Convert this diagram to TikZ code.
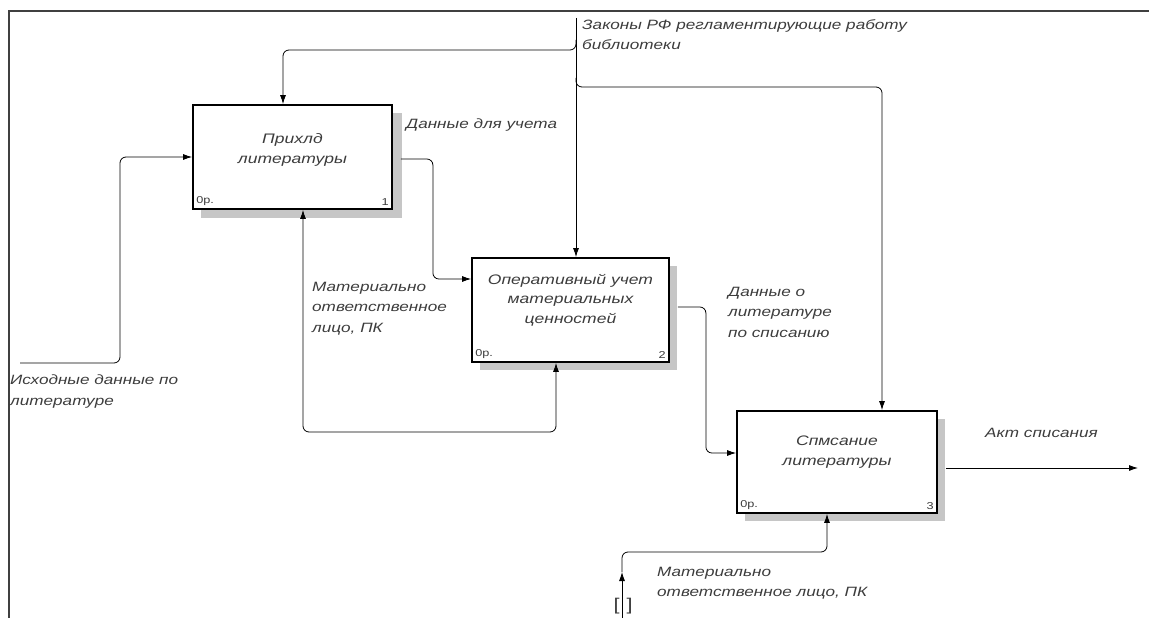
\documentclass[tikz,border=0pt]{standalone}
\usepackage{fontspec}
\usepackage{tikz}
\usetikzlibrary{arrows.meta,positioning}
\newfontfamily\idef{Liberation Sans}[FakeStretch=1.27]
\definecolor{txtgray}{RGB}{60,60,60}

\begin{document}
\begin{tikzpicture}[x=1pt,y=-1pt,
        font=\idef\fontsize{12.5}{19.5}\selectfont,
        box/.style={draw,line width=1.8pt,fill=white,minimum width=199pt,minimum height=104pt,inner sep=0pt},
        shade/.style={fill=gray!45,draw=none},
        title/.style={align=center,text=txtgray,font=\idef\itshape\fontsize{13.8}{19.5}\selectfont},
        lbl/.style={align=left,text=txtgray,inner sep=1pt,font=\idef\itshape\fontsize{13.5}{20.5}\selectfont},
        tag/.style={inner sep=4pt,text=txtgray,font=\idef\fontsize{10}{10}\selectfont},
        conn/.style={line width=0.8pt,rounded corners=6pt,-{Latex[length=9pt,width=6pt]}}]

    \useasboundingbox (0,0) rectangle (1149,618);
    \draw[line width=2pt,black!75] (9,618) -- (9,11) -- (1149,11);

    % shadows
    \fill[shade] (201,113) rectangle (402,218);
    \fill[shade] (480,266) rectangle (677,370);
    \fill[shade] (745,419) rectangle (945,521);

    % activities
    \node[box] (b1) at (292.5,157) {};
    \node[box,minimum width=197pt] (b2) at (570.5,310) {};
    \node[box,minimum width=200pt,minimum height=102pt] (b3) at (837,462) {};

    \node[title] (t1) at ([yshift=7pt]b1.center) {Прихлд\\литературы};
    \node[title] (t2) at ([yshift=10pt]b2.center) {Оперативный учет\\материальных\\ценностей};
    \node[title] (t3) at ([yshift=10pt]b3.center) {Спмсание\\литературы};

    \node[tag,anchor=south west] (c1) at (b1.south west) {0р.};
    \node[tag,anchor=south east] (n1) at (b1.south east) {1};
    \node[tag,anchor=south west] (c2) at (b2.south west) {0р.};
    \node[tag,anchor=south east] (n2) at (b2.south east) {2};
    \node[tag,anchor=south west] (c3) at (b3.south west) {0р.};
    \node[tag,anchor=south east] (n3) at (b3.south east) {3};

    % free ends
    \coordinate (ctl) at (576,18);
    \coordinate (cj1) at (576,40);
    \coordinate (cj2) at (576,78);
    \coordinate (in1) at (20,363);
    \coordinate (out3) at (1138,468);
    \coordinate (m1) at (430,432);
    \coordinate (mech) at (622,618);
    \coordinate (m2) at (622,572);

    % control
    \draw[conn] (ctl) -- (ctl |- b2.north);
    \draw[conn] (cj1) |- ([xshift=-9.5pt]b1.north |- 0,50) -- ([xshift=-9.5pt]b1.north);
    \draw[conn] (cj2) |- ([xshift=45pt]b3.north |- 0,87) -- ([xshift=45pt]b3.north);

    % input and outputs
    \draw[conn] (in1) -- ++(100,0) |- (b1.west);
    \draw[conn] ([xshift=8pt,yshift=-2pt]b1.east) -- ++(32,0) |- ([yshift=31pt]b2.west);
    \draw[conn] ([xshift=8pt,yshift=3pt]b2.east) -- ++(28,0) |- ([yshift=9pt]b3.west);
    \draw[conn] ([xshift=8pt,yshift=-6pt]b3.east) -- (out3);

    % mechanisms
    \draw[conn,{Latex[length=9pt,width=6pt]}-{Latex[length=9pt,width=6pt]}]
        ([xshift=10.5pt]b1.south) |- (m1) -| ([xshift=-14.5pt]b2.south);
    \draw[conn] (mech) -- (m2);
    \draw[conn] (m2) |- ([xshift=-10pt]b3.south |- 0,552) -- ([xshift=-10pt]b3.south);
    \node[font=\idef\fontsize{17}{17}\selectfont,inner sep=0pt,text=txtgray] (tun) at (623,606) {[\hspace{7pt}]};

    % labels
    \node[lbl,anchor=north west] (lctl) at (581,18) {Законы РФ регламентирующие работу\\библиотеки};
    \node[lbl,anchor=west] (l12) at (405,125) {Данные для учета};
    \node[lbl,anchor=north west] (lin) at (9,374) {Исходные данные по\\литературе};
    \node[lbl,anchor=north west] (lm1) at (311,281) {Материально\\ответственное\\лицо, ПК};
    \node[lbl,anchor=north west] (l23) at (727,286) {Данные о\\литературе\\по списанию};
    \node[lbl,anchor=west] (lout) at (984,433) {Акт списания};
    \node[lbl,anchor=north west] (lm2) at (656,566) {Материально\\ответственное лицо, ПК};
\end{tikzpicture}
\end{document}
